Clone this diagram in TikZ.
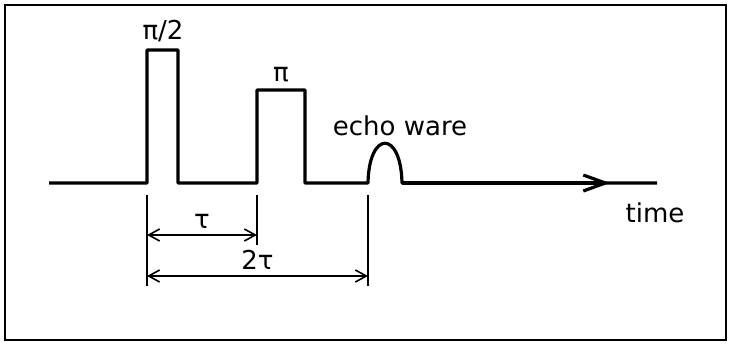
\documentclass[tikz,border=0pt]{standalone}
\usepackage{fontspec}
\setmainfont{DejaVu Sans}
\usetikzlibrary{arrows.meta,positioning}

\begin{document}
\begin{tikzpicture}[
    x=0.5pt, y=-0.5pt,
    pulse/.style={line width=1.6pt, line join=round},
    axisarrow/.style={line width=1.6pt, -{Straight Barb[length=11pt,width=8pt,line width=1.6pt]}},
    dimline/.style={line width=0.8pt, {Straight Barb[length=5.5pt,width=6pt]}-{Straight Barb[length=5.5pt,width=6pt]}},
    guide/.style={line width=0.9pt},
    lbl/.style={font=\fontsize{13}{15}\selectfont, inner sep=1pt}
]

\useasboundingbox (0,0) rectangle (730,344);
\draw[line width=1pt] (5,5) rectangle (726,340);

% points along the time axis
\coordinate (start) at (49,183);
\coordinate (a1)    at (147,183);
\coordinate (a2)    at (178,183);
\coordinate (b1)    at (257,183);
\coordinate (b2)    at (305,183);
\coordinate (e1)    at (368,183);
\coordinate (e2)    at (402,183);
\coordinate (tip)   at (610,183);
\coordinate (stop)  at (657,183);

% pulse train with echo
\draw[pulse] (start) -- (a1) -- ++(0,-133) -| (a2) -- (b1) -- ++(0,-93) -| (b2)
    -- (e1) .. controls +(1,-53) and +(-1,-53) .. (e2) -- (stop);
\draw[axisarrow] (e2) -- (tip);

% pulse labels
\node[lbl] (half) at (163,31)  {π/2};
\node[lbl] (full) at (281,75)  {π};
\node[lbl] (echo) at (400,126) {echo ware};
\node[lbl] (time) at (655,213) {time};

% guide lines below the axis
\coordinate (ga) at (147,195); \coordinate (ga') at (147,286);
\coordinate (gb) at (257,195); \coordinate (gb') at (257,245);
\coordinate (ge) at (368,195); \coordinate (ge') at (368,286);
\draw[guide] (ga) -- (ga');
\draw[guide] (gb) -- (gb');
\draw[guide] (ge) -- (ge');

% interval arrows
\coordinate (tau1)  at (147,235); \coordinate (tau2)  at (257,235);
\coordinate (ttau1) at (147,276); \coordinate (ttau2) at (368,276);
\draw[dimline] (tau1) -- (tau2) node[lbl, midway, above=2pt] (tau) {τ};
\draw[dimline] (ttau1) -- (ttau2) node[lbl, midway, above=2pt] (ttau) {2τ};

\end{tikzpicture}
\end{document}
